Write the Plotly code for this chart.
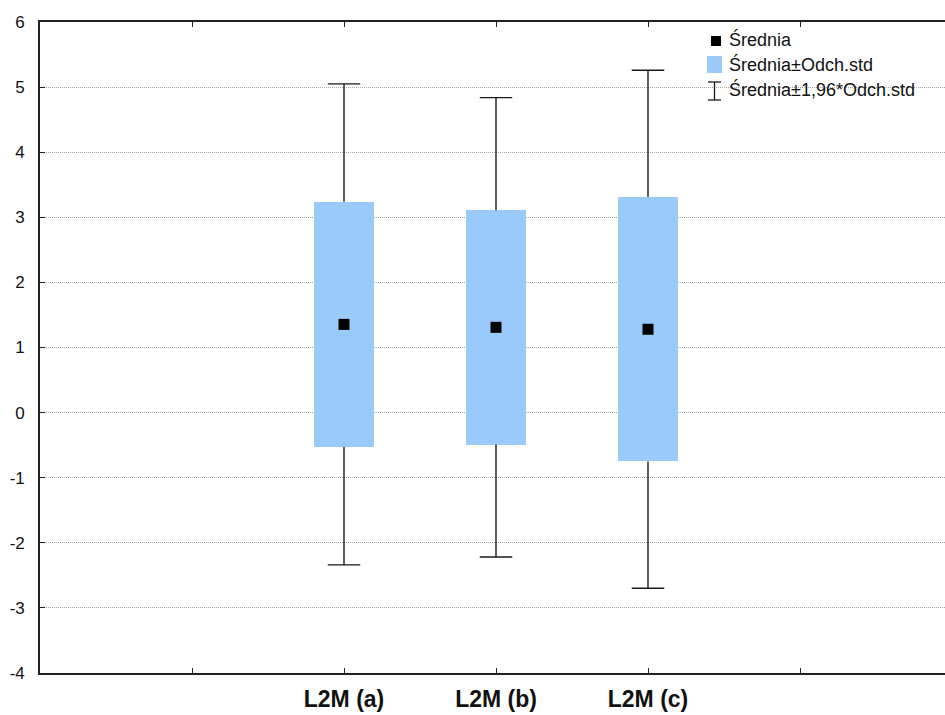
import plotly.graph_objects as go

# Summary statistics per group
categories = ["L2M (a)", "L2M (b)", "L2M (c)"]
means = [1.355, 1.31, 1.28]
std_devs = [1.885, 1.80, 2.03]
z_factor = 1.96

# Axis labelling
tick_positions = [-1, 0, 1, 2, 3]
tick_labels = ["", "L2M (a)", "L2M (b)", "L2M (c)", ""]
y_ticks = [-4, -3, -2, -1, 0, 1, 2, 3, 4, 5, 6]
y_tick_text = ["-4", "-3", "-2", "-1", "0", "1", "2", "3", "4", "5", "6"]

xs = list(range(len(categories)))
box_lo = [m - s for m, s in zip(means, std_devs)]
box_hi = [m + s for m, s in zip(means, std_devs)]
wh_lo = [m - z_factor * s for m, s in zip(means, std_devs)]
wh_hi = [m + z_factor * s for m, s in zip(means, std_devs)]

BOX_COLOR = "#9ACAFA"
CAP_HALF = 0.107
BAR_WIDTH = 0.40
FONT = "Liberation Sans, Arial, sans-serif"

fig = go.Figure()

# Mean ± SD boxes
fig.add_trace(go.Bar(
    x=xs,
    y=[h - l for h, l in zip(box_hi, box_lo)],
    base=box_lo,
    width=BAR_WIDTH,
    marker=dict(color=BOX_COLOR, line=dict(width=0)),
    showlegend=False,
    hoverinfo="skip",
))

# Whiskers (mean ± 1.96·SD), drawn outside the boxes only
wx, wy = [], []
for x, bl, bh, lo, hi in zip(xs, box_lo, box_hi, wh_lo, wh_hi):
    wx += [x, x, None, x, x, None]
    wy += [bh, hi, None, bl, lo, None]
    wx += [x - CAP_HALF, x + CAP_HALF, None, x - CAP_HALF, x + CAP_HALF, None]
    wy += [hi, hi, None, lo, lo, None]
fig.add_trace(go.Scatter(
    x=wx, y=wy, mode="lines",
    line=dict(color="#1a1a1a", width=1.4),
    showlegend=False, hoverinfo="skip",
))

# Means
fig.add_trace(go.Scatter(
    x=xs, y=means, mode="markers",
    marker=dict(symbol="square", size=11, color="#000000"),
    showlegend=False,
))

W, H = 945, 715
L, R, T, B = 40, 0, 22, 42


def px_x(p):
    return (p - L) / (W - L - R)


def px_y(p):
    return (H - B - p) / (H - T - B)


# Legend drawn by hand
legend_font = dict(family=FONT, size=18, color="#111111")
legend_rows = [("Średnia", 40), ("Średnia±Odch.std", 64), ("Średnia±1,96*Odch.std", 89)]
for text, yc in legend_rows:
    fig.add_annotation(
        x=px_x(727), y=px_y(yc), xref="paper", yref="paper",
        text=text, showarrow=False, xanchor="left", yanchor="middle",
        font=legend_font,
    )

shapes = [
    dict(type="rect", xref="paper", yref="paper",
         x0=px_x(711), x1=px_x(721), y0=px_y(46), y1=px_y(36),
         fillcolor="#000000", line=dict(width=0)),
    dict(type="rect", xref="paper", yref="paper",
         x0=px_x(707), x1=px_x(722), y0=px_y(73), y1=px_y(56),
         fillcolor=BOX_COLOR, line=dict(width=0)),
    dict(type="line", xref="paper", yref="paper",
         x0=px_x(714.5), x1=px_x(714.5), y0=px_y(100), y1=px_y(82),
         line=dict(color="#1a1a1a", width=1.3)),
    dict(type="line", xref="paper", yref="paper",
         x0=px_x(708), x1=px_x(721), y0=px_y(82), y1=px_y(82),
         line=dict(color="#1a1a1a", width=1.3)),
    dict(type="line", xref="paper", yref="paper",
         x0=px_x(708), x1=px_x(721), y0=px_y(100), y1=px_y(100),
         line=dict(color="#1a1a1a", width=1.3)),
]

fig.update_layout(
    width=W, height=H,
    margin=dict(l=L, r=R, t=T, b=B, pad=0),
    paper_bgcolor="white", plot_bgcolor="white",
    shapes=shapes,
    bargap=0,
    font=dict(family=FONT, color="#111111"),
)

fig.update_xaxes(
    range=[-2, -2 + (W - L - R) / 152.0],
    tickmode="array", tickvals=tick_positions, ticktext=tick_labels,
    ticks="inside", ticklen=5, tickcolor="#222222", tickwidth=1.3,
    showline=True, linecolor="#222222", linewidth=1.6, mirror="ticks",
    showgrid=False, zeroline=False,
    tickfont=dict(family=FONT, size=23, color="#111111", weight="bold"),
    ticklabelstandoff=5,
)
fig.update_yaxes(
    range=[-4, 6],
    tickmode="array", tickvals=y_ticks, ticktext=y_tick_text,
    ticks="inside", ticklen=5, tickcolor="#222222", tickwidth=1.3,
    showline=True, linecolor="#222222", linewidth=1.6,
    showgrid=True, gridcolor="#a8a8a8", gridwidth=1, griddash="1px,1px",
    zeroline=False,
    tickfont=dict(family=FONT, size=17, color="#111111"),
    ticklabelstandoff=10,
)

fig.write_html("out.html")
